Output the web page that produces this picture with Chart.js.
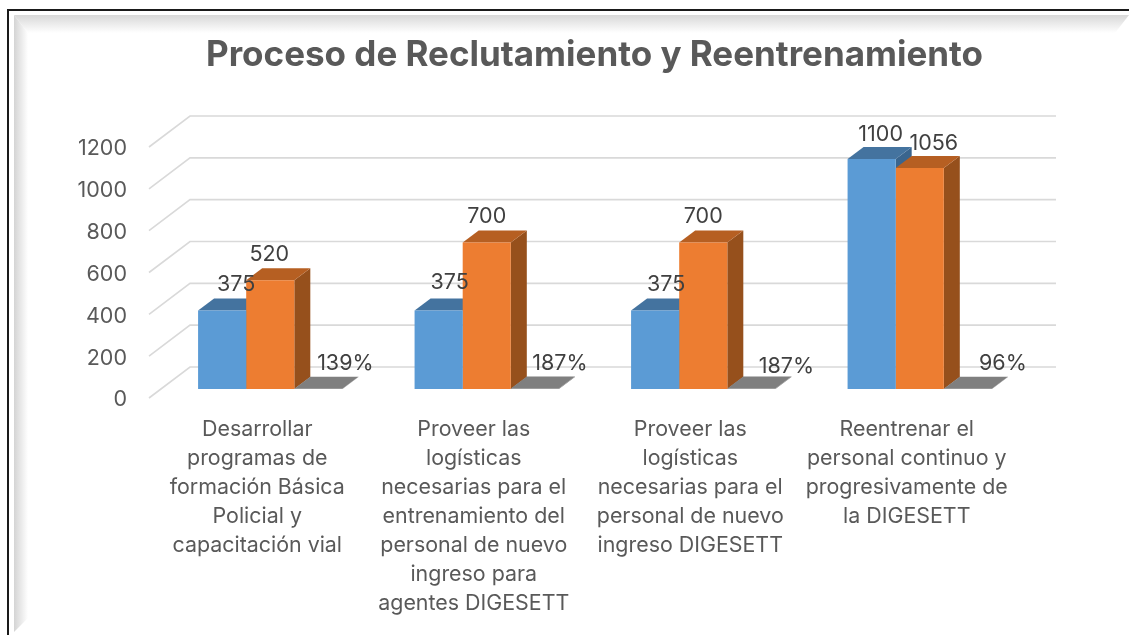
<!DOCTYPE html>
<html>
<head>
<meta charset="utf-8">
<style>html,body{margin:0;background:#fff;overflow:hidden}canvas{display:block}</style>
<script src="https://cdn.jsdelivr.net/npm/chart.js@4"></script>
</head>
<body>
<canvas id="myChart" width="1129" height="635"></canvas>
<script>
const categories = [
    ['Desarrollar', 'programas de', 'formación Básica', 'Policial y', 'capacitación vial'],
    ['Proveer las', 'logísticas', 'necesarias para el', 'entrenamiento del', 'personal de nuevo', 'ingreso para', 'agentes DIGESETT'],
    ['Proveer las', 'logísticas', 'necesarias para el', 'personal de nuevo', 'ingreso DIGESETT'],
    ['Reentrenar el', 'personal continuo y', 'progresivamente de', 'la DIGESETT']
];
const programado = [375, 375, 375, 1100];
const ejecutado = [520, 700, 700, 1056];
const porcentaje = [1.39, 1.87, 1.87, 0.96];

// the labels were moved by hand in the original, offsets from the bar top centre
const labelDx = [[14, 11, 11, 9], [-1, 0, 0, 14], [27, 25, 35, 35]];
const labelDy = [[-26, -28, -26, -24], [-26, -26, -26, -25], [-25, -25, -22, -25]];

const fontFamily = 'Inter, "Noto Sans", sans-serif';
const depthX = 16, depthY = 12;       // bar depth
const floorX = 41, floorY = 31;       // depth of the floor/wall
const shiftX = 13, shiftY = -9;       // bars stand in the middle of the floor

const faces = [
    { top: '#44739f', side: '#3a658e' },
    { top: '#b65f22', side: '#96501c' },
    { top: '#7f7f7f', side: '#6a6a6a' }
];

function poly(c, color, pts) {
    c.fillStyle = color;
    c.beginPath();
    pts.forEach((p, i) => i ? c.lineTo(p[0], p[1]) : c.moveTo(p[0], p[1]));
    c.closePath();
    c.fill();
}

const frame = {
    id: 'frame',
    beforeDraw(chart) {
        const c = chart.ctx;
        let g = c.createLinearGradient(0, 15, 0, 33);
        g.addColorStop(0, '#d8d8d8');
        g.addColorStop(1, '#ffffff');
        poly(c, g, [[14, 15], [1129, 15], [1115, 33], [28, 33]]);
        g = c.createLinearGradient(14, 0, 28, 0);
        g.addColorStop(0, '#d4d4d4');
        g.addColorStop(1, '#ffffff');
        poly(c, g, [[14, 15], [28, 33], [28, 618], [14, 632]]);
        c.strokeStyle = '#1a1a1a';
        c.lineWidth = 2;
        c.beginPath();
        c.moveTo(8, 635);
        c.lineTo(8, 10);
        c.lineTo(1129, 10);
        c.stroke();
    },
    afterLayout(chart) {
        // title is centred a bit right of the canvas
        chart.titleBlock.left = 174;
        // value labels sit slightly under their gridline
        const y = chart.scales.y, pixelForTick = y.getPixelForTick.bind(y);
        y.getPixelForTick = i => pixelForTick(i) + 2;
    }
};

const bars3d = {
    id: 'bars3d',
    beforeDatasetsDraw(chart) {
        const c = chart.ctx, y = chart.scales.y, a = chart.chartArea;
        c.strokeStyle = '#d9d9d9';
        c.lineWidth = 1.6;
        y.ticks.forEach(t => {
            const py = y.getPixelForValue(t.value);
            c.beginPath();
            c.moveTo(a.left, py);
            c.lineTo(a.left + floorX, py - floorY);
            c.lineTo(a.right + floorX, py - floorY);
            c.stroke();
        });
        c.save();
        c.translate(shiftX, shiftY);
        // sides and tops go first, the library paints the front faces over them
        chart.data.datasets.forEach((ds, i) => {
            const f = faces[i];
            chart.getDatasetMeta(i).data.forEach(b => {
                const l = b.x - b.width / 2, r = b.x + b.width / 2;
                poly(c, f.side, [[r, b.y], [r + depthX, b.y - depthY], [r + depthX, b.base - depthY], [r, b.base]]);
                poly(c, f.top, [[l, b.y], [l + depthX, b.y - depthY], [r + depthX, b.y - depthY], [r, b.y]]);
            });
        });
    },
    afterDatasetsDraw(chart) {
        const c = chart.ctx;
        c.restore();
        c.fillStyle = '#404040';
        c.font = '21.5px ' + fontFamily;
        c.textAlign = 'center';
        c.textBaseline = 'middle';
        chart.data.datasets.forEach((ds, i) => {
            chart.getDatasetMeta(i).data.forEach((b, j) => {
                const v = ds.data[j];
                const text = i === 2 ? Math.round(v * 100) + '%' : String(v);
                c.fillText(text, b.x + shiftX + labelDx[i][j], b.y + shiftY + labelDy[i][j]);
            });
        });
    }
};

new Chart(document.getElementById('myChart'), {
    type: 'bar',
    data: {
        labels: categories,
        datasets: [
            { label: 'Programado', data: programado, backgroundColor: '#5b9bd5', clip: false },
            { label: 'Ejecutado', data: ejecutado, backgroundColor: '#ed7d31', clip: false },
            { label: 'Porcentaje', data: porcentaje, backgroundColor: '#7f7f7f', clip: false }
        ]
    },
    options: {
        responsive: false,
        animation: false,
        categoryPercentage: 0.6667,
        barPercentage: 1,
        layout: { padding: { left: 0, right: 114, top: 0, bottom: 0 } },
        plugins: {
            legend: { display: false },
            tooltip: { enabled: false },
            title: {
                display: true,
                text: 'Proceso de Reclutamiento y Reentrenamiento',
                color: '#595959',
                font: { family: fontFamily, size: 35, weight: 'bold', lineHeight: 1.2 },
                padding: { top: 34, bottom: 71 }
            }
        },
        scales: {
            x: {
                grid: { display: false },
                border: { display: false },
                afterFit(s) { s.height = 237; },
                ticks: {
                    color: '#595959',
                    padding: 9,
                    maxRotation: 0,
                    autoSkip: false,
                    font: { family: fontFamily, size: 21.4, lineHeight: 1.355 }
                }
            },
            y: {
                min: 0,
                max: 1200,
                grid: { display: false },
                border: { display: false },
                afterFit(s) { s.width = 149; },
                ticks: {
                    stepSize: 200,
                    color: '#595959',
                    padding: 14,
                    font: { family: fontFamily, size: 21.5 },
                    callback: v => String(v)
                }
            }
        }
    },
    plugins: [frame, bars3d]
});
</script>
</body>
</html>
